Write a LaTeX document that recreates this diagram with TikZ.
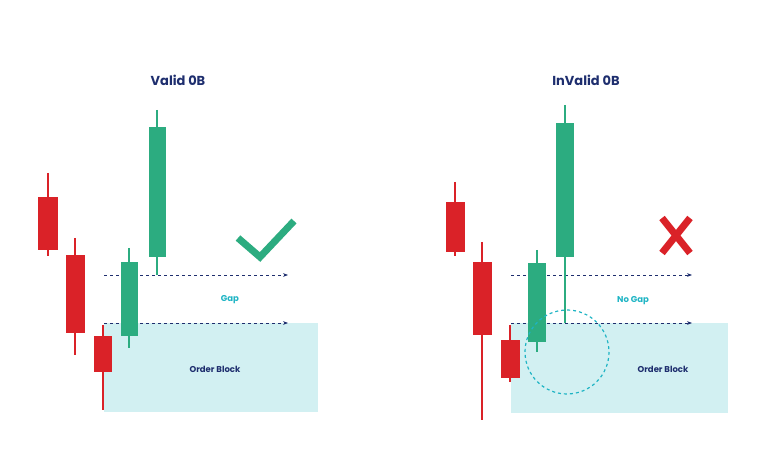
\documentclass[tikz,border=0pt]{standalone}
\usepackage{fontspec}
\setmainfont{Poppins}
\usetikzlibrary{arrows.meta}
\definecolor{cred}{RGB}{218,34,40}
\definecolor{cgreen}{RGB}{44,172,128}
\definecolor{navy}{RGB}{30,46,110}
\definecolor{cyantxt}{RGB}{30,180,196}
\definecolor{obfill}{RGB}{210,240,242}
\begin{document}
\begin{tikzpicture}[x=1pt,y=-1pt,
  wick/.style={line width=2.2pt},
  title/.style={font=\bfseries\fontsize{13}{15}\selectfont, text=navy},
  lbl/.style={font=\bfseries\fontsize{8.5}{10}\selectfont},
  arr/.style={navy, dashed, line width=0.8pt, -{Stealth[length=5pt]}}]
\useasboundingbox (0,0) rectangle (764,470);
% candle macro: x, wick top, wick bottom, body top, body bottom, half width, colour
\newcommand{\candle}[7]{\draw[wick,#7] (#1,#2) -- (#1,#3);
  \fill[#7] ({#1-#6},#4) rectangle ({#1+#6},#5);}
% left panel
\node[title] (t1) at (178,80) {Valid 0B};
\fill[obfill] (104,323) rectangle (318,412);
\node[lbl,text=navy] (ob1) at (215,369) {Order Block};
\node[lbl,text=cyantxt] (g1) at (230,300) {Gap};
\coordinate (a1s) at (104,275); \coordinate (a1e) at (288,275);
\coordinate (a2s) at (104,323); \coordinate (a2e) at (288,323);
\draw[arr] (a1s) -- (a1e);
\draw[arr] (a2s) -- (a2e);
\candle{48}{173}{256}{197}{250}{10}{cred}
\candle{75}{238}{355}{255}{333}{9.5}{cred}
\candle{103}{325}{410}{336}{372}{9}{cred}
\candle{129}{248}{348}{262}{336}{8.5}{cgreen}
\candle{157}{110}{275}{127}{257}{8.5}{cgreen}
\draw[cgreen,line width=7pt] (238,238) -- (260,257) -- (294,221);
% right panel
\node[title] (t2) at (586,80) {InValid 0B};
\fill[obfill] (511,323) rectangle (728,413);
\node[lbl,text=navy] (ob2) at (663,369) {Order Block};
\node[lbl,text=cyantxt] (g2) at (633,301) {No Gap};
\coordinate (b1s) at (511,275); \coordinate (b1e) at (692,275);
\coordinate (b2s) at (511,323); \coordinate (b2e) at (692,323);
\draw[arr] (b1s) -- (b1e);
\draw[arr] (b2s) -- (b2e);
\candle{455}{182}{256}{202}{252}{9.5}{cred}
\candle{482}{242}{420}{262}{335}{9.5}{cred}
\candle{510}{325}{382}{340}{378}{9.5}{cred}
\candle{537}{250}{352}{263}{342}{9}{cgreen}
\candle{565}{105}{323}{123}{257}{9}{cgreen}
\draw[cyantxt,dashed,line width=1.2pt] (567,352) circle (42);
\draw[cred,line width=7pt] (662,218) -- (690,253);
\draw[cred,line width=7pt] (690,218) -- (662,253);
\end{tikzpicture}
\end{document}
